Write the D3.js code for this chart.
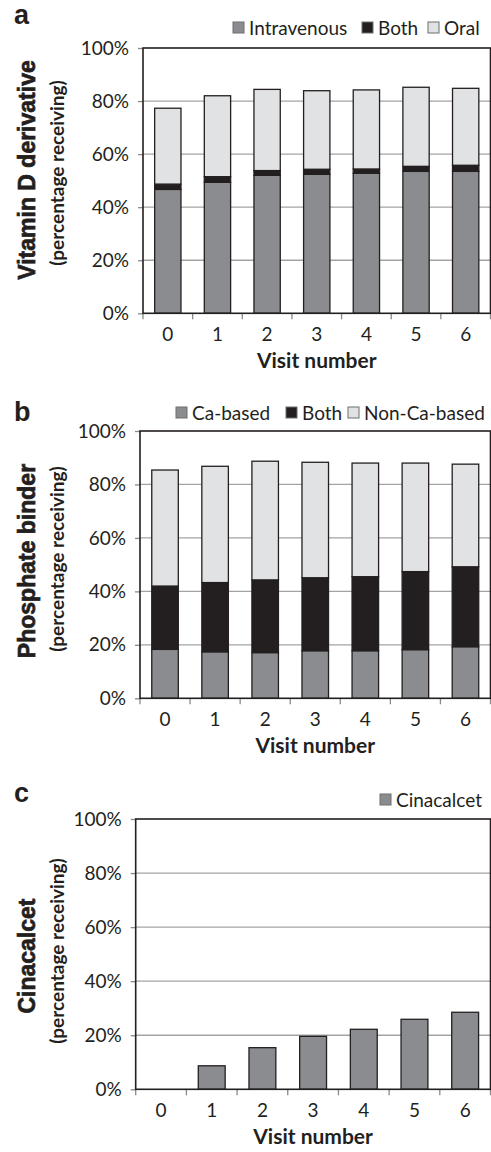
<!DOCTYPE html>
<html>
<head>
<meta charset="utf-8">
<script src="https://cdn.jsdelivr.net/npm/d3@7"></script>
<style>
  body { margin: 0; background: #fff; }
  svg { display: block; }
  .tick text { font-family: Lato, "Open Sans", sans-serif; fill: #231f20; }
</style>
</head>
<body>
<div id="chart"></div>
<script>
const visits = ['0', '1', '2', '3', '4', '5', '6'];
const yTicks = [0, 20, 40, 60, 80, 100];

// a: vitamin D derivative
const vitDIntravenous = [46.7, 49.4, 52.0, 52.4, 52.8, 53.5, 53.5];
const vitDBoth = [2.0, 2.1, 1.8, 1.9, 1.6, 1.9, 2.3];
const vitDOral = [28.6, 30.5, 30.6, 29.6, 29.8, 29.8, 29.0];

// b: phosphate binder
const phosCaBased = [18.3, 17.4, 17.1, 17.8, 17.8, 18.2, 19.3];
const phosBoth = [23.7, 25.9, 27.2, 27.3, 27.7, 29.2, 29.9];
const phosNonCa = [43.4, 43.5, 44.4, 43.2, 42.5, 40.6, 38.4];

// c: cinacalcet
const cinacalcet = [0, 8.7, 15.4, 19.6, 22.2, 25.9, 28.5];

const MID = '#8b8c8f', DARK = '#231f20', LIGHT = '#e1e2e4';
const W = 491, H = 1152;

const svg = d3.select('#chart').append('svg')
    .attr('width', W).attr('height', H);

const panels = [
    {
        letter: 'a', letterY: 24,
        title: 'Vitamin D derivative', titleCy: 170, subCy: 173,
        left: 143, top: 48, bottom: 313.3, legendY: 28,
        series: [
            { name: 'Intravenous', values: vitDIntravenous, color: MID },
            { name: 'Both', values: vitDBoth, color: DARK },
            { name: 'Oral', values: vitDOral, color: LIGHT }
        ],
        legendX: [233, 362, 428]
    },
    {
        letter: 'b', letterY: 421,
        title: 'Phosphate binder', titleCy: 561, subCy: 559,
        left: 140, top: 431, bottom: 698.3, legendY: 413,
        series: [
            { name: 'Ca-based', values: phosCaBased, color: MID },
            { name: 'Both', values: phosBoth, color: DARK },
            { name: 'Non-Ca-based', values: phosNonCa, color: LIGHT }
        ],
        legendX: [176, 286, 348]
    },
    {
        letter: 'c', letterY: 802,
        title: 'Cinacalcet', titleCy: 956, subCy: 951,
        left: 135.7, top: 819, bottom: 1089.3, legendY: 800,
        series: [
            { name: 'Cinacalcet', values: cinacalcet, color: MID }
        ],
        legendX: [380]
    }
];

const right = 490.5;

panels.forEach(p => {
    const g = svg.append('g');

    const x = d3.scaleBand().domain(visits).range([p.left, right]).paddingInner(0.47).paddingOuter(0.235);
    const xEdges = d3.scaleLinear().domain([0, visits.length]).range([p.left, right]);
    const y = d3.scaleLinear().domain([0, 100]).range([p.bottom, p.top]);

    // gridlines
    g.append('g').selectAll('line')
        .data(yTicks.filter(t => t > 0 && t < 100))
        .enter().append('line')
        .attr('x1', p.left).attr('x2', right)
        .attr('y1', d => y(d)).attr('y2', d => y(d))
        .attr('stroke', '#a3a3a3').attr('stroke-width', 1.3);

    // y axis with ticks and labels
    const yAxis = g.append('g')
        .attr('transform', `translate(${p.left},0)`)
        .call(d3.axisLeft(y).tickValues(yTicks).tickFormat(d => d + '%').tickSize(5).tickPadding(9));
    yAxis.select('.domain').remove();
    yAxis.selectAll('.tick line').attr('stroke', '#8a8a8a').attr('stroke-width', 1.3);
    yAxis.selectAll('.tick text').style('font-size', '19px');

    // x category labels
    const xAxis = g.append('g')
        .attr('transform', `translate(0,${p.bottom})`)
        .call(d3.axisBottom(x).tickSize(0).tickPadding(14));
    xAxis.select('.domain').remove();
    xAxis.selectAll('.tick text').style('font-size', '19px');

    // x tick marks at category boundaries
    g.append('g').selectAll('line')
        .data(d3.range(visits.length + 1))
        .enter().append('line')
        .attr('x1', d => xEdges(d)).attr('x2', d => xEdges(d))
        .attr('y1', p.bottom).attr('y2', p.bottom + 6)
        .attr('stroke', '#8a8a8a').attr('stroke-width', 1.3);

    // stacked bars
    const stackData = visits.map((v, i) => {
        const row = { visit: v };
        p.series.forEach(s => { row[s.name] = s.values[i]; });
        return row;
    });
    const stacked = d3.stack().keys(p.series.map(s => s.name))(stackData);
    stacked.forEach((layer, li) => {
        g.append('g').selectAll('rect')
            .data(layer.filter(d => d[1] - d[0] > 0))
            .enter().append('rect')
            .attr('x', d => x(d.data.visit))
            .attr('width', x.bandwidth())
            .attr('y', d => y(d[1]))
            .attr('height', d => y(d[0]) - y(d[1]))
            .attr('fill', p.series[li].color)
            .attr('stroke', DARK)
            .attr('stroke-width', 1.3);
    });

    // plot frame
    g.append('rect')
        .attr('x', p.left).attr('y', p.top)
        .attr('width', right - p.left).attr('height', p.bottom - p.top)
        .attr('fill', 'none').attr('stroke', DARK).attr('stroke-width', 1.6);

    // x axis title
    g.append('text')
        .attr('x', (p.left + right) / 2).attr('y', p.bottom + 55)
        .attr('text-anchor', 'middle')
        .style('font-family', 'Lato, sans-serif').style('font-weight', 'bold').style('font-size', '21px')
        .attr('fill', DARK)
        .text('Visit number');

    // y axis titles
    g.append('text')
        .attr('transform', `translate(35,${p.titleCy}) rotate(-90)`)
        .attr('text-anchor', 'middle')
        .style('font-family', '"Liberation Sans", Arial, sans-serif').style('font-weight', 'bold').style('font-size', '23px')
        .attr('fill', DARK).attr('stroke', DARK).attr('stroke-width', 0.7)
        .text(p.title);
    g.append('text')
        .attr('transform', `translate(64,${p.subCy}) rotate(-90)`)
        .attr('text-anchor', 'middle')
        .style('font-family', 'Lato, sans-serif').style('font-weight', 'bold').style('font-size', '19px')
        .attr('fill', DARK)
        .text('(percentage receiving)');

    // panel letter
    g.append('text')
        .attr('x', 14).attr('y', p.letterY)
        .style('font-family', '"Liberation Sans", Arial, sans-serif').style('font-weight', 'bold').style('font-size', '27px')
        .attr('fill', DARK)
        .text(p.letter);

    // legend
    p.series.forEach((s, i) => {
        const lx = p.legendX[i];
        g.append('rect')
            .attr('x', lx).attr('y', p.legendY - 6)
            .attr('width', 11).attr('height', 11)
            .attr('fill', s.color).attr('stroke', '#6d6e71').attr('stroke-width', 1);
        g.append('text')
            .attr('x', lx + 16).attr('y', p.legendY + 7)
            .style('font-family', 'Lato, sans-serif').style('font-size', '19px')
            .attr('fill', DARK)
            .text(s.name);
    });
});
</script>
</body>
</html>
